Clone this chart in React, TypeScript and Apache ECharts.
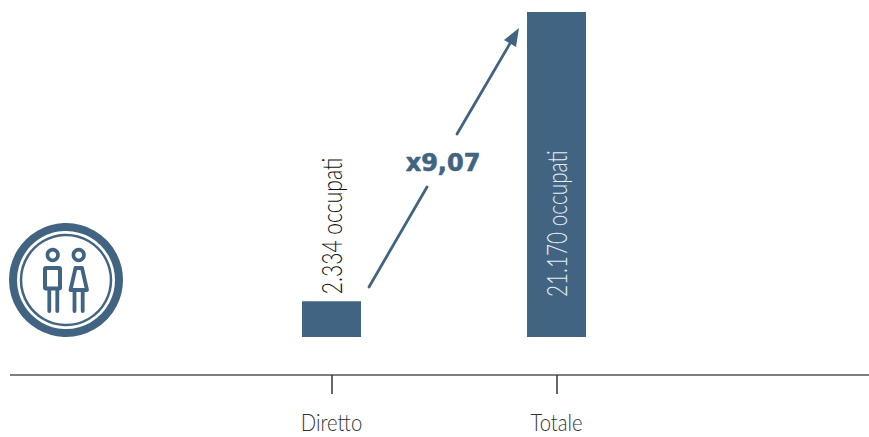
import React, { useEffect, useRef } from "react";
import * as echarts from "echarts";

const categories = ["Diretto", "Totale"];
const values = [2334, 21170];
const barLabels = ["2.334 occupati", "21.170 occupati"];
const ratioLabel = "x9,07";
const BLUE = "#426483";

const line = (x1: number, y1: number, x2: number, y2: number, lineWidth: number) => ({
  type: "line",
  shape: { x1, y1, x2, y2 },
  style: { stroke: BLUE, lineWidth, lineCap: "round" },
});
const ring = (r: number, lineWidth: number, cx = 66, cy = 280) => ({
  type: "circle",
  shape: { cx, cy, r },
  style: { fill: "none", stroke: BLUE, lineWidth },
});

export default function App() {
  const ref = useRef<HTMLDivElement>(null);
  useEffect(() => {
    const chart = echarts.init(ref.current!, undefined, { renderer: "svg" });
    chart.setOption({
      animation: false,
      backgroundColor: "#fff",
      grid: { left: 219, width: 450, top: 12, height: 325 },
      xAxis: {
        type: "category",
        data: categories,
        offset: 38,
        axisLine: { show: false, onZero: false },
        axisTick: { show: true, alignWithLabel: true, length: 19, lineStyle: { color: "#333", width: 1.5 } },
        axisLabel: { show: false },
      },
      yAxis: { type: "value", min: 0, max: 21170, show: false },
      series: [
        {
          type: "bar",
          barWidth: 59,
          itemStyle: { color: BLUE },
          data: values,
        },
        {
          type: "custom",
          clip: false,
          silent: true,
          z: 5,
          data: values.map((v, i) => [i, v]),
          renderItem: (_p: unknown, api: any) => {
            const i = api.value(0) as number;
            const [cx, base] = api.coord([i, 0]);
            const [, top] = api.coord([i, api.value(1)]);
            const inside = i === 1;
            return {
              type: "group",
              children: [
                {
                  type: "text",
                  x: cx,
                  y: inside ? base - 40 : top - 7,
                  rotation: Math.PI / 2,
                  scaleX: inside ? 0.77 : 0.78,
                  style: {
                    text: barLabels[i],
                    font: "300 27px Lato, sans-serif",
                    fill: inside ? "#e8edf2" : "#111",
                    align: "left",
                    verticalAlign: "middle",
                  },
                },
                {
                  type: "text",
                  x: cx,
                  y: base + 86,
                  scaleX: 0.88,
                  style: {
                    text: categories[i],
                    font: "300 23px Lato, sans-serif",
                    fill: "#333",
                    align: "center",
                    verticalAlign: "middle",
                  },
                },
              ],
            };
          },
        },
      ],
      graphic: [
        { type: "line", shape: { x1: 10, y1: 375, x2: 869, y2: 375 }, style: { stroke: "#555", lineWidth: 1.5 } },
        line(369, 287, 427, 187, 2.8),
        line(457, 134, 512, 40, 2.8),
        { type: "polygon", shape: { points: [[519, 28], [504, 40], [516, 47]] }, style: { fill: BLUE } },
        {
          type: "text",
          x: 443,
          y: 163,
          style: {
            text: ratioLabel,
            fill: BLUE,
            stroke: BLUE,
            lineWidth: 0.6,
            font: "bold 24px 'DejaVu Sans', sans-serif",
            align: "center",
            verticalAlign: "middle",
          },
        },
        ring(53, 8),
        ring(45, 2.5),
        ring(5.3, 3.6, 52.7, 255),
        ring(5.3, 3.6, 78.7, 255),
        {
          type: "rect",
          shape: { x: 45, y: 268, width: 15, height: 20.5, r: 1 },
          style: { fill: "none", stroke: BLUE, lineWidth: 4 },
        },
        line(49.3, 289, 49.3, 311, 3.8),
        line(57.3, 289, 57.3, 311, 3.8),
        {
          type: "polygon",
          shape: { points: [[75.5, 268], [82, 268], [87, 290], [70.5, 290]] },
          style: { fill: "none", stroke: BLUE, lineWidth: 3.8, lineJoin: "round" },
        },
        line(74.5, 290, 74.5, 311, 3.8),
        line(82.7, 290, 82.7, 311, 3.8),
      ],
    });
    return () => chart.dispose();
  }, []);
  return <div ref={ref} style={{ position: "fixed", left: 0, top: 0, width: 869, height: 437 }} />;
}
